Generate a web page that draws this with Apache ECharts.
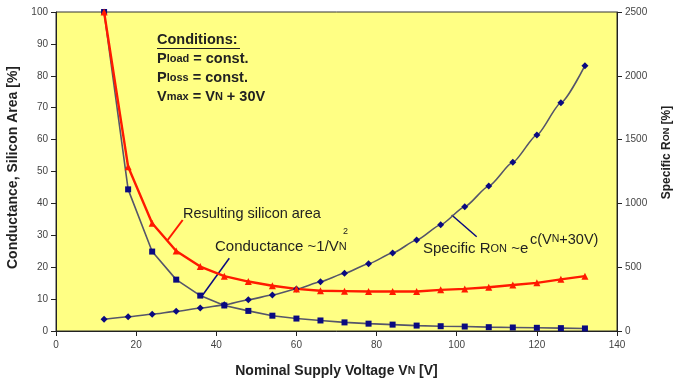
<!DOCTYPE html>
<html>
<head>
<meta charset="utf-8">
<script src="https://cdn.jsdelivr.net/npm/echarts@6/dist/echarts.min.js"></script>
<style>
html,body{margin:0;padding:0;background:#fff;}
#c{width:676px;height:384px;}
</style>
</head>
<body>
<div id="c"></div>
<script>
// Nominal supply voltage VN [V]
const voltages = [12, 18, 24, 30, 36, 42, 48, 54, 60, 66, 72, 78, 84, 90, 96, 102, 108, 114, 120, 126, 132];
// Conductance ~1/VN^2 [%] (left axis)
const conductance = [100, 44.4, 24.9, 16.1, 11.1, 8.0, 6.3, 4.8, 3.9, 3.3, 2.7, 2.3, 2.0, 1.7, 1.5, 1.4, 1.2, 1.1, 1.0, 0.9, 0.8];
// Resulting silicon area [%] (left axis)
const siliconArea = [100, 51.5, 33.8, 25.1, 20.2, 17.2, 15.5, 14.2, 13.2, 12.6, 12.5, 12.4, 12.4, 12.4, 12.9, 13.2, 13.7, 14.4, 15.1, 16.2, 17.2];
// Specific RON [%] (right axis)
const specificRon = [92, 112, 131, 154, 180, 205, 245, 282, 329, 386, 452, 527, 611, 713, 833, 974, 1136, 1322, 1536, 1789, 2079];
// Axis ticks
const xTicks = {min: 0, max: 140, interval: 20};
const yLeftTicks = {min: 0, max: 100, interval: 10};
const yRightTicks = {min: 0, max: 2500, interval: 500};

const pairs = (vals) => voltages.map((v, i) => [v, vals[i]]);

const chart = echarts.init(document.getElementById('c'), null, {renderer: 'canvas'});
const FONT = 'Liberation Sans, Arial, sans-serif';
const axisLabelStyle = {color: '#444', fontSize: 10, fontFamily: FONT, formatter: (v) => String(v)};
const axisLineStyle = {show: true, lineStyle: {color: '#222', width: 1}};

const option = {
  backgroundColor: '#ffffff',
  animation: false,
  grid: {
    left: 56, right: 59, top: 12, bottom: 53,
    outerBoundsMode: 'none', containLabel: false,
    show: true, backgroundColor: '#FFFF84', borderColor: '#333', borderWidth: 1
  },
  xAxis: {
    type: 'value', min: xTicks.min, max: xTicks.max, interval: xTicks.interval,
    axisLine: axisLineStyle,
    axisTick: {show: true, length: 5, lineStyle: {color: '#222'}},
    splitLine: {show: false},
    axisLabel: Object.assign({margin: 9}, axisLabelStyle),
    name: '{b|Nominal Supply Voltage V}{s|N}{b| [V]}',
    nameLocation: 'middle', nameGap: 33,
    nameTextStyle: {
      rich: {
        b: {fontFamily: FONT, fontSize: 14, fontWeight: 'bold', color: '#222'},
        s: {fontFamily: FONT, fontSize: 10.5, fontWeight: 'bold', color: '#222'}
      }
    }
  },
  yAxis: [
    {
      type: 'value', min: yLeftTicks.min, max: yLeftTicks.max, interval: yLeftTicks.interval,
      position: 'left',
      axisLine: axisLineStyle,
      axisTick: {show: true, length: 5, lineStyle: {color: '#222'}},
      splitLine: {show: false},
      axisLabel: Object.assign({margin: 8}, axisLabelStyle),
      name: 'Conductance, Silicon Area [%]',
      nameLocation: 'middle', nameGap: 33, nameRotate: 90,
      nameTextStyle: {fontFamily: FONT, fontSize: 14, fontWeight: 'bold', color: '#222', padding: [0, 0, 0, 8]}
    },
    {
      type: 'value', min: yRightTicks.min, max: yRightTicks.max, interval: yRightTicks.interval,
      position: 'right',
      axisLine: axisLineStyle,
      axisTick: {show: true, length: 5, lineStyle: {color: '#222'}},
      splitLine: {show: false},
      axisLabel: Object.assign({margin: 8}, axisLabelStyle),
      name: '{b|Specific R}{s|ON}{b| [%]}',
      nameLocation: 'middle', nameGap: 44, nameRotate: 90,
      nameTextStyle: {
        padding: [0, 0, 0, 38],
        rich: {
          b: {fontFamily: FONT, fontSize: 12, fontWeight: 'bold', color: '#222'},
          s: {fontFamily: FONT, fontSize: 9, fontWeight: 'bold', color: '#222'}
        }
      }
    }
  ],
  series: [
    {
      name: 'Conductance', type: 'line', yAxisIndex: 0,
      data: pairs(conductance), smooth: false,
      symbol: 'rect', symbolSize: 6,
      itemStyle: {color: '#0a0a80'},
      lineStyle: {color: '#55556a', width: 1.6}
    },
    {
      name: 'Specific RON', type: 'line', yAxisIndex: 1,
      data: pairs(specificRon), smooth: 0.2, smoothMonotone: 'x',
      symbol: 'diamond', symbolSize: 7,
      itemStyle: {color: '#0a0a80'},
      lineStyle: {color: '#55556a', width: 1.6}
    },
    {
      name: 'Resulting silicon area', type: 'line', yAxisIndex: 0,
      data: pairs(siliconArea), smooth: false,
      symbol: 'triangle', symbolSize: 7,
      itemStyle: {color: '#ff1a00'},
      lineStyle: {color: '#ff1a00', width: 2.4}
    }
  ],
  graphic: [
    // Conditions box
    {type: 'text', left: 157, top: 32, style: {text: 'Conditions:', font: 'bold 14.5px ' + FONT, fill: '#222'}},
    {type: 'line', shape: {x1: 157, y1: 48.5, x2: 240, y2: 48.5}, style: {stroke: '#222', lineWidth: 1.2}},
    {type: 'text', left: 157, top: 51, style: {
      text: '{b|P}{s|load}{b| = const.}',
      rich: {b: {font: 'bold 14.5px ' + FONT, fill: '#222'}, s: {font: 'bold 11px ' + FONT, fill: '#222'}}
    }},
    {type: 'text', left: 157, top: 70, style: {
      text: '{b|P}{s|loss}{b| = const.}',
      rich: {b: {font: 'bold 14.5px ' + FONT, fill: '#222'}, s: {font: 'bold 11px ' + FONT, fill: '#222'}}
    }},
    {type: 'text', left: 157, top: 89, style: {
      text: '{b|V}{s|max}{b| = V}{s|N}{b| + 30V}',
      rich: {b: {font: 'bold 14.5px ' + FONT, fill: '#222'}, s: {font: 'bold 11px ' + FONT, fill: '#222'}}
    }},
    // Resulting silicon area label + pointer
    {type: 'text', left: 183, top: 206, style: {text: 'Resulting silicon area', font: '14.5px ' + FONT, fill: '#222'}},
    {type: 'line', shape: {x1: 182.7, y1: 220, x2: 167.7, y2: 240}, style: {stroke: '#ff1a00', lineWidth: 2}},
    // Conductance label + pointer
    {type: 'text', left: 215, top: 239, style: {
      text: '{a|Conductance ~1/V}{s|N}',
      rich: {a: {font: '15px ' + FONT, fill: '#222'}, s: {font: '11px ' + FONT, fill: '#222'}}
    }},
    {type: 'text', left: 343, top: 227, style: {text: '2', font: '9px ' + FONT, fill: '#222'}},
    {type: 'line', shape: {x1: 229.3, y1: 258.3, x2: 202.7, y2: 295}, style: {stroke: '#0a0a80', lineWidth: 1.5}},
    // Specific RON label + pointer
    {type: 'text', left: 423, top: 241, style: {
      text: '{a|Specific R}{s|ON}{a| ~e}',
      rich: {a: {font: '15px ' + FONT, fill: '#222'}, s: {font: '11px ' + FONT, fill: '#222'}}
    }},
    {type: 'text', left: 530, top: 232, style: {
      text: '{a|c(V}{s|N}{a|+30V)}',
      rich: {a: {font: '14.5px ' + FONT, fill: '#222'}, s: {font: '10.5px ' + FONT, fill: '#222'}}
    }},
    {type: 'line', shape: {x1: 451.7, y1: 215, x2: 476.7, y2: 236.7}, style: {stroke: '#0a0a80', lineWidth: 1.5}}
  ]
};
chart.setOption(option);
</script>
</body>
</html>
